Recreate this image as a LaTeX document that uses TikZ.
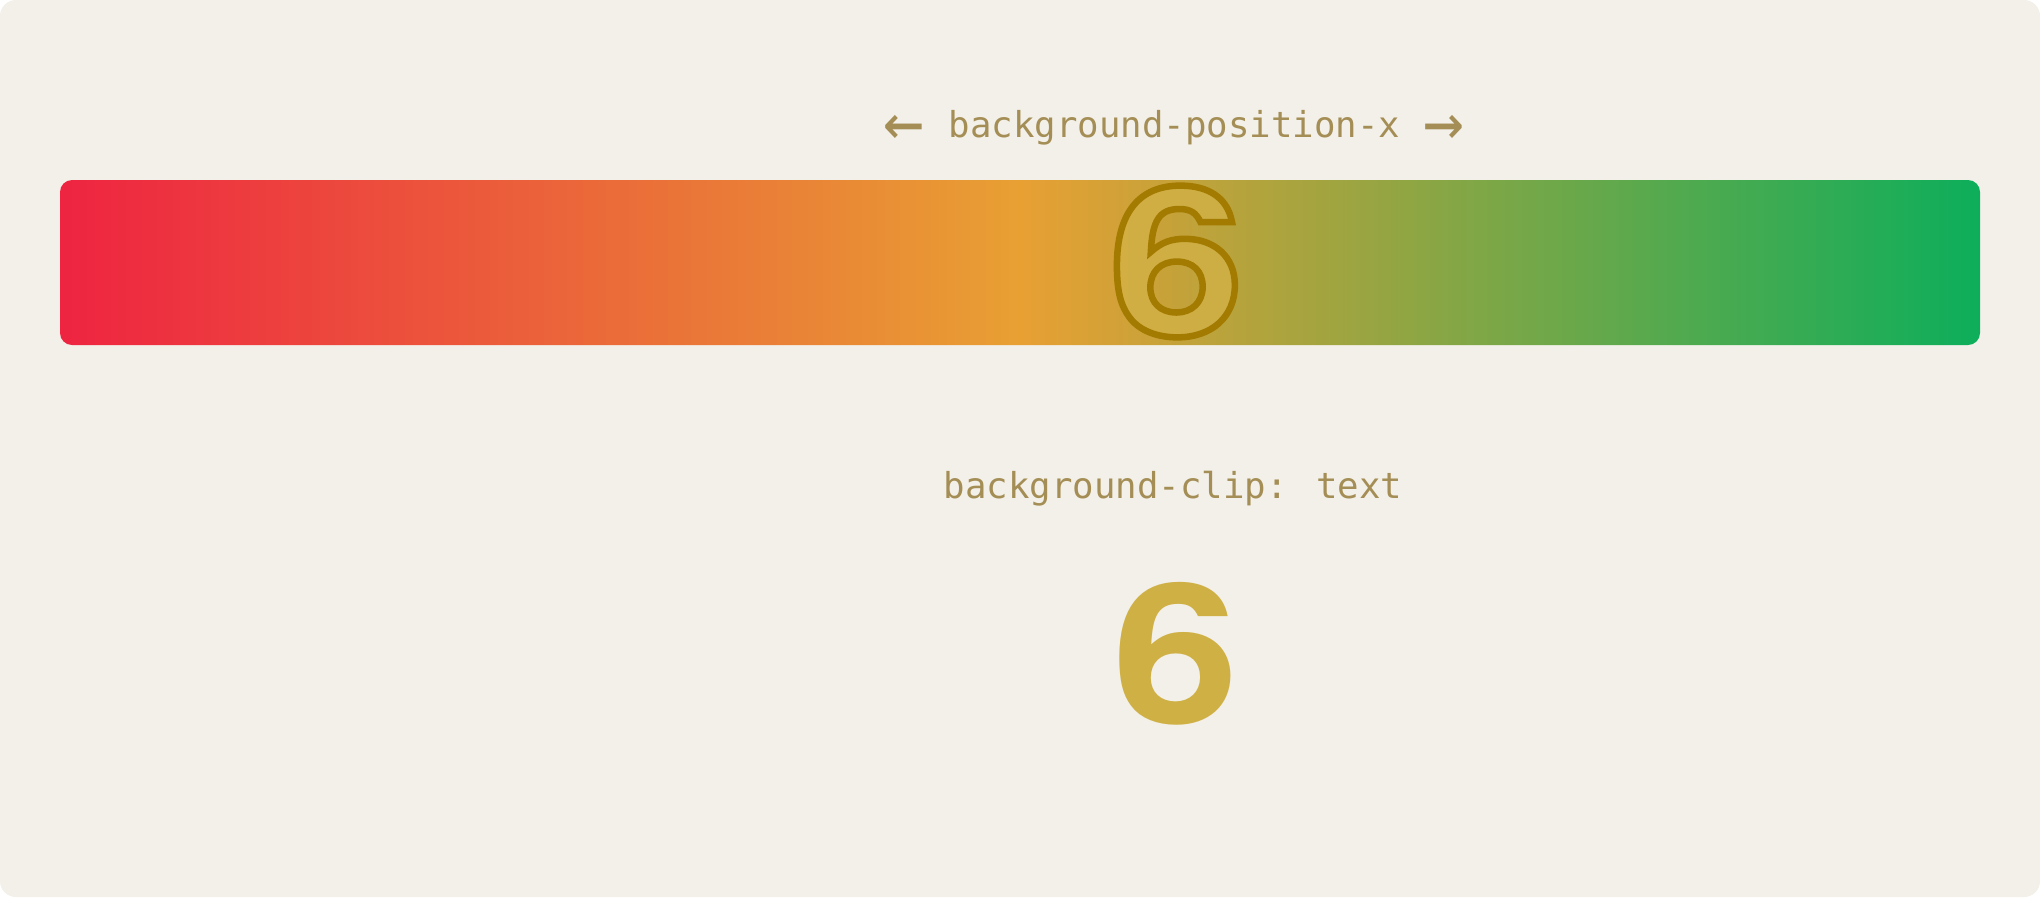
\documentclass[tikz,border=0pt]{standalone}
\usepackage{fontspec}
\usepackage{graphicx}
\newfontfamily\monofont{DejaVu Sans Mono}
\newfontfamily\sixfont[FakeStretch=1.17]{TeX Gyre Heros}
\definecolor{bgc}{HTML}{F3F0E9}
\definecolor{labc}{HTML}{A48E55}
\definecolor{gred}{HTML}{EE2441}
\definecolor{gorange}{HTML}{E8A033}
\definecolor{ggreen}{HTML}{0DAE5B}
\definecolor{goldc}{HTML}{CFB045}
\definecolor{gfill}{HTML}{D3B348}
\definecolor{gstroke}{HTML}{A37B00}
\tikzset{
  lbl/.style={inner sep=0pt, anchor=base, text=labc, font=\monofont\fontsize{35.7}{40}\selectfont},
  sixnode/.style={inner sep=0pt, anchor=base},
}
\begin{document}
\begin{tikzpicture}[x=1pt,y=-1pt]
\useasboundingbox (0,0) rectangle (2040,897);
\fill[white] (0,0) rectangle (2040,897);
\fill[bgc, rounded corners=16pt] (0,0) rectangle (2040,897);
\shade[left color=gred, right color=ggreen, middle color=gorange, rounded corners=12pt] (60,180) rectangle (1980,345);
% top outlined six
\node[sixnode, text=gfill, text opacity=0.75] (topfill) at (1176.5,335.5) {\sixfont\bfseries\fontsize{207}{207}\selectfont 6};
\node[sixnode, text=gstroke] (topline) at (1176.5,335.5) {\sixfont\bfseries\fontsize{207}{207}\selectfont\special{pdf:literal direct 1 Tr 6.5 w}6\special{pdf:literal direct 0 Tr}};
% labels
\node[lbl] (toplabel) at (1174.5,137) {background-position-x};
\node[lbl] (leftarrow) at (904,146) {\scalebox{1.9}[2.0]{←}};
\node[lbl] (rightarrow) at (1444,146) {\scalebox{1.9}[2.0]{→}};
\node[lbl] (cliplabel) at (1173,498) {background-clip: text};
% bottom six
\node[sixnode, text=goldc] (bottomsix) at (1176,723.5) {\sixfont\bfseries\fontsize{195}{195}\selectfont 6};
\end{tikzpicture}
\end{document}
